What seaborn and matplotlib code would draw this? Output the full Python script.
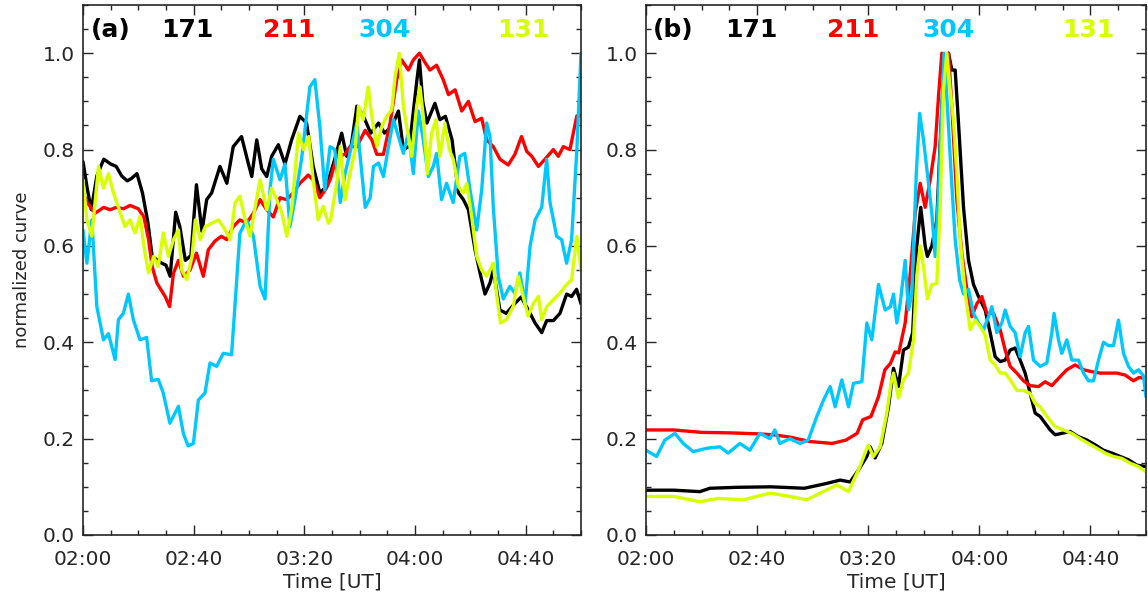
import pandas as pd
import numpy as np
import matplotlib.pyplot as plt
from matplotlib.ticker import MultipleLocator, FuncFormatter
import seaborn as sns

# channels and colours
channels = ['171', '211', '304', '131']
colors = {'171': '#000000', '211': '#ff0000', '304': '#00c8ff', '131': '#d8ff00'}

# (minutes after 02:00 UT, normalized value)
a171 = [(0, .775), (1.5, .72), (3, .675), (5, .745), (7.5, .78), (10, .77), (12, .765), (14, .745), (16, .735),
        (17.5, .74), (19.5, .75), (21.5, .71), (23.5, .647), (25, .578), (27, .57), (28.5, .564), (30, .56),
        (31.5, .537), (33.5, .67), (35, .64), (37, .57), (39, .58), (41, .727), (43, .63), (44.7, .696),
        (46.5, .71), (49.5, .765), (52, .73), (54.3, .806), (57.3, .827), (59.8, .77), (61, .744), (62.8, .82),
        (64.6, .76), (66.4, .744), (68.2, .786), (70.6, .81), (73, .77), (75.4, .82), (78.4, .869), (80.8, .855),
        (83.2, .765), (85.6, .71), (88, .723), (91, .78), (93.5, .834), (95.3, .786), (97, .81), (99, .89),
        (101.3, .87), (104, .834), (106.8, .855), (109, .834), (111.6, .848), (114, .88), (115.8, .80),
        (118, .807), (120.6, .94), (121.6, .986), (122.8, .90), (124.3, .855), (127.2, .896), (129, .862),
        (131, .869), (133.4, .82), (135.7, .71), (137.5, .696), (139.3, .675), (141.7, .592), (143.5, .544),
        (145.3, .50), (147.1, .523), (148.3, .55), (150.7, .467), (153, .46), (156, .48), (158.4, .494),
        (161.6, .46), (163.4, .44), (165.8, .42), (167.6, .445), (170, .445), (172.4, .46), (174.8, .50),
        (176.6, .495), (178.4, .51), (180, .48)]
a211 = [(0, .71), (1.5, .69), (4.4, .668), (7.5, .68), (9.8, .675), (12, .68), (14.6, .677), (17, .684),
        (20, .677), (22, .66), (23.7, .613), (25, .557), (26.7, .523), (29.7, .495), (31.3, .474), (32.7, .543),
        (34.5, .57), (36.3, .537), (38.7, .55), (41, .585), (43.5, .537), (45.3, .592), (47.7, .61), (50, .62),
        (52, .613), (54.3, .64), (56.7, .654), (59.1, .647), (61.6, .668), (64, .696), (66.4, .675), (68.8, .66),
        (71.2, .70), (73.6, .696), (76, .71), (78.4, .73), (81.4, .747), (83.2, .737), (85.6, .70), (88, .72),
        (89.5, .74), (91.7, .786), (94.7, .79), (96.5, .806), (99, .806), (102, .84), (104.4, .82), (106.2, .79),
        (108.6, .79), (111, .855), (113.4, .945), (115.2, .986), (117.6, .965), (119.4, .986), (121.6, 1.0),
        (123.7, .98), (125.4, .965), (127.8, .975), (130.2, .945), (132.1, .914), (134.5, .924), (136.9, .88),
        (139.3, .90), (141.7, .858), (144.1, .865), (145.9, .82), (148.3, .806), (150.7, .78), (153.7, .768),
        (156.1, .79), (158.5, .827), (160.4, .796), (162.2, .786), (164.6, .765), (167, .78), (170, .80),
        (171.8, .786), (173.6, .806), (176, .80), (178.5, .87), (180, .87)]
a304 = [(0, .633), (1.4, .564), (3.2, .654), (5, .474), (7.4, .405), (9.2, .418), (11.6, .364), (12.8, .447),
        (14.6, .46), (16.4, .50), (18.2, .447), (20.6, .405), (23, .41), (24.8, .32), (27.2, .323), (29, .295),
        (31.4, .232), (34.5, .267), (36.3, .21), (38, .185), (39.9, .19), (41.7, .28), (44.1, .295), (45.9, .357),
        (48.3, .35), (50.7, .377), (53.7, .374), (54.9, .474), (56.7, .626), (59.1, .654), (61.6, .62), (64, .516),
        (65.8, .49), (67.6, .716), (68.8, .78), (71.2, .737), (73, .77), (74.8, .64), (76.6, .696), (79, .78),
        (82, .93), (83.8, .945), (85.6, .848), (87.4, .716), (89.3, .806), (91, .80), (93, .69), (94.7, .75),
        (97, .806), (99, .855), (100.8, .75), (102, .68), (103.8, .70), (105, .765), (106.8, .772), (108.6, .744),
        (110.4, .806), (112.2, .862), (114, .827), (115.8, .792), (117.6, .834), (119.4, .75), (121.2, .88),
        (123, .82), (124.8, .744), (126.6, .765), (127.8, .792), (129.6, .696), (131.4, .73), (133.8, .69),
        (136.2, .786), (138, .792), (139.9, .716), (142.3, .633), (144.1, .716), (145.9, .855), (147.1, .827),
        (148.3, .68), (150.1, .537), (151.9, .49), (154.3, .516), (156.1, .502), (157.9, .544), (159.8, .48),
        (161.6, .60), (163.4, .654), (165.8, .68), (167.6, .78), (168.8, .69), (171.2, .62), (173, .613),
        (174.8, .564), (176.6, .613), (178.5, .80), (180, 1.0)]
a131 = [(0, .737), (1.4, .654), (3.2, .62), (5.6, .765), (7.4, .72), (9.2, .75), (11, .71), (12.8, .68),
        (15.2, .64), (17, .654), (18.8, .627), (20.6, .661), (22.4, .585), (23.7, .544), (25.5, .578),
        (27.2, .557), (29, .627), (30.9, .578), (32.7, .613), (34.5, .633), (35.7, .55), (37.5, .53),
        (39.4, .578), (40.6, .654), (42.4, .613), (44.2, .64), (46.5, .647), (49, .654), (51.4, .633),
        (53.2, .613), (55, .69), (56.7, .703), (58.6, .654), (60.4, .62), (62.2, .68), (64, .737), (66.4, .675),
        (68.2, .72), (70, .696), (71.9, .668), (73.7, .62), (75.5, .68), (77.9, .834), (79.7, .80), (81.6, .827),
        (83.2, .737), (85, .654), (86.8, .682), (88.7, .647), (89.5, .654), (91.7, .73), (93, .806), (94.7, .696),
        (96.5, .75), (98.4, .80), (99.6, .89), (101.3, .862), (103.1, .93), (104.4, .869), (106.2, .806),
        (108, .848), (109.8, .869), (111.6, .882), (112.8, .951), (114.3, 1.0), (115.8, .889), (117.6, .827),
        (118.8, .786), (120.6, .89), (121.8, .93), (123, .869), (124.5, .75), (126, .834), (127.6, .862),
        (129, .786), (130.8, .855), (132.4, .80), (133.8, .78), (135.7, .723), (137.5, .71), (138.7, .73),
        (140.5, .66), (142.3, .578), (144.1, .55), (145.9, .537), (148.3, .564), (149.5, .50), (150.9, .44),
        (153, .447), (155.5, .474), (157.3, .537), (159.1, .495), (160.9, .454), (162.8, .481), (164.6, .495),
        (165.8, .447), (167.6, .474), (170, .488), (172.4, .502), (174.2, .516), (176.6, .53), (178.5, .62),
        (180, .55)]

b171 = [(0, .093), (10, .093), (19.4, .09), (23, .097), (33, .099), (45, .10), (57, .097), (65, .107),
        (69.9, .114), (73.5, .11), (76.5, .135), (79.5, .163), (80.7, .183), (82.5, .16), (84.9, .19),
        (87.3, .266), (89.1, .346), (90.9, .308), (92.7, .384), (94.5, .39), (96, .42), (97.5, .60), (98.9, .68),
        (100.5, .60), (101.3, .578), (102.9, .60), (104.7, .654), (106.5, .89), (107.7, .993), (108.9, 1.0),
        (110.1, .965), (111.3, .965), (112.5, .855), (114.3, .68), (116.1, .57), (117.9, .52), (119.7, .495),
        (122.1, .467), (123.9, .42), (125.7, .37), (127.5, .36), (129.3, .363), (131.1, .384), (132.9, .388),
        (134.7, .363), (136.5, .336), (138.3, .294), (140.1, .253), (141.9, .246), (143.7, .232), (145.5, .218),
        (147.3, .208), (149.7, .211), (152.7, .215), (155.7, .204), (158.7, .197), (161.7, .187), (164.7, .176),
        (167.7, .17), (170.7, .163), (173.7, .156), (176.7, .145), (180, .142)]
b211 = [(0, .218), (10, .218), (20, .213), (30, .212), (40, .21), (46, .208), (52, .203), (59, .194), (67, .19),
        (72, .197), (76, .211), (78, .239), (81, .246), (83.7, .287), (86, .343), (88, .356), (89.7, .38),
        (91, .378), (93.3, .44), (95.1, .54), (96.9, .668), (98.7, .73), (100.5, .68), (102.3, .737),
        (104.1, .806), (105.3, .91), (106.5, 1.0), (107.7, .986), (108.9, 1.0), (110.1, .89), (111.9, .696),
        (113.7, .585), (115.5, .51), (117.3, .453), (119.1, .48), (120.9, .495), (122.7, .46), (125.1, .46),
        (127.5, .426), (129.3, .384), (131.1, .35), (133.5, .336), (135.9, .32), (138.3, .31), (141.3, .308),
        (143.7, .318), (146.1, .31), (148.5, .325), (151.5, .343), (154.5, .353), (157.5, .343), (160.5, .339),
        (163.5, .336), (166.5, .336), (169.5, .336), (172.5, .332), (175.5, .32), (177.5, .327), (180, .325)]
b304 = [(0, .176), (3.8, .163), (6.8, .197), (10.4, .211), (13.4, .19), (17, .173), (21.8, .18), (26.6, .183),
        (29.6, .17), (33.8, .19), (37.4, .176), (41, .211), (44.6, .20), (46.4, .218), (48.2, .19), (51.8, .20),
        (55.4, .19), (58.4, .197), (61.5, .246), (63.9, .28), (66.3, .308), (68.1, .266), (70.5, .322),
        (72.9, .266), (74.7, .315), (77.7, .318), (79.5, .44), (81.3, .405), (83.7, .52), (86.1, .467), (88, .474),
        (89.1, .50), (90.3, .44), (91.5, .48), (93.3, .57), (94.5, .467), (95.7, .50), (97.3, .75), (98.5, .875),
        (99.9, .82), (101.7, .73), (102.9, .668), (104.1, .578), (105.3, .71), (106.5, .89), (107.3, 1.0),
        (108.5, .89), (109.7, .765), (111.3, .613), (112.9, .53), (114.3, .50), (116.1, .51), (117.9, .46),
        (119.7, .44), (121.5, .426), (123.3, .453), (124.5, .474), (126.3, .42), (128.1, .44), (129.3, .467),
        (131.1, .433), (132.9, .42), (134.7, .37), (136.5, .42), (137.7, .433), (139.5, .363), (141.9, .35),
        (144.3, .357), (146.1, .42), (146.9, .46), (148.5, .405), (149.7, .377), (151.5, .405), (153.3, .363),
        (155.7, .363), (157.5, .336), (159.3, .32), (161.1, .32), (162.9, .363), (164.7, .40), (166.5, .393),
        (168.3, .393), (170.1, .446), (171.9, .377), (173.7, .35), (175.5, .336), (177.3, .343), (179.1, .33),
        (180, .287)]
b131 = [(0, .08), (10, .08), (19.4, .069), (26, .076), (35, .073), (44.6, .087), (51.8, .08), (57.9, .073),
        (62.7, .087), (68.7, .104), (72.9, .09), (77, .142), (80, .187), (81.9, .163), (84.3, .183), (86.7, .253),
        (88.2, .315), (89.1, .336), (90.9, .284), (92.7, .322), (94.5, .336), (96.3, .405), (97.5, .54),
        (98.7, .60), (99.9, .557), (101.3, .49), (102.9, .52), (104.7, .522), (105.9, .68), (107.1, .924),
        (108.3, 1.0), (109.5, .924), (110.7, .86), (111.9, .75), (113.1, .613), (114.9, .502), (116.7, .426),
        (118.5, .446), (120.3, .433), (122.1, .415), (123.9, .363), (125.7, .353), (127.5, .336), (129.3, .336),
        (131.1, .322), (133.5, .30), (135.9, .30), (138.3, .294), (140.1, .273), (141.9, .266), (144.3, .246),
        (147.3, .225), (150.3, .218), (153.3, .211), (156.3, .20), (159.3, .19), (162.3, .18), (165.3, .17),
        (168.3, .163), (171.3, .159), (174.3, .149), (177.3, .142), (180, .131)]

panels = {'(a)': {'171': a171, '211': a211, '304': a304, '131': a131},
          '(b)': {'171': b171, '211': b211, '304': b304, '131': b131}}

sns.set_style('ticks')
plt.rcParams['font.family'] = ['DejaVu Sans']

fig = plt.figure(figsize=(11.48, 6.01), dpi=100)
ax_a = fig.add_axes([83 / 1148, 1 - 535 / 601, 498 / 1148, 530 / 601])
ax_b = fig.add_axes([646 / 1148, 1 - 535 / 601, 500 / 1148, 530 / 601])

label_x = [0.055, 0.21, 0.415, 0.605, 0.885]

for ax, (tag, series) in zip([ax_a, ax_b], panels.items()):
    rows = []
    for ch in channels:
        for t, v in series[ch]:
            rows.append({'t': t, 'v': v, 'channel': ch})
    df = pd.DataFrame(rows)
    sns.lineplot(data=df, x='t', y='v', hue='channel', hue_order=channels, palette=colors,
                 estimator=None, sort=False, legend=False, linewidth=2.4, ax=ax)

    ax.set_xlim(0, 180)
    ax.set_ylim(0, 1.1)
    ax.xaxis.set_major_locator(MultipleLocator(40))
    ax.xaxis.set_minor_locator(MultipleLocator(10))
    ax.yaxis.set_major_locator(MultipleLocator(0.2))
    ax.yaxis.set_minor_locator(MultipleLocator(0.05))
    ax.xaxis.set_major_formatter(FuncFormatter(lambda m, p: f'{2 + int(m) // 60:02d}:{int(m) % 60:02d}'))
    ax.yaxis.set_major_formatter(FuncFormatter(lambda y, p: f'{y:.1f}'))
    ax.tick_params(which='both', direction='in', top=True, right=True, width=1.0, labelsize=14.5)
    ax.tick_params(which='major', length=7)
    ax.tick_params(which='minor', length=3.5)
    ax.tick_params(axis='x', pad=11)
    ax.tick_params(axis='y', pad=6)
    for sp in ax.spines.values():
        sp.set_linewidth(1.2)
    ax.set_xlabel('Time [UT]', fontsize=14.5, labelpad=2)
    ax.set_ylabel('')

    ax.text(label_x[0], 0.953, tag, transform=ax.transAxes, ha='center', va='center',
            fontsize=18, fontweight='bold', color='black')
    for x, ch in zip(label_x[1:], channels):
        ax.text(x, 0.953, ch, transform=ax.transAxes, ha='center', va='center',
                fontsize=18, fontweight='bold', color=colors[ch])

ax_a.set_ylabel('normalized curve', fontsize=13, labelpad=8)

fig.savefig('out.png', dpi=100)
